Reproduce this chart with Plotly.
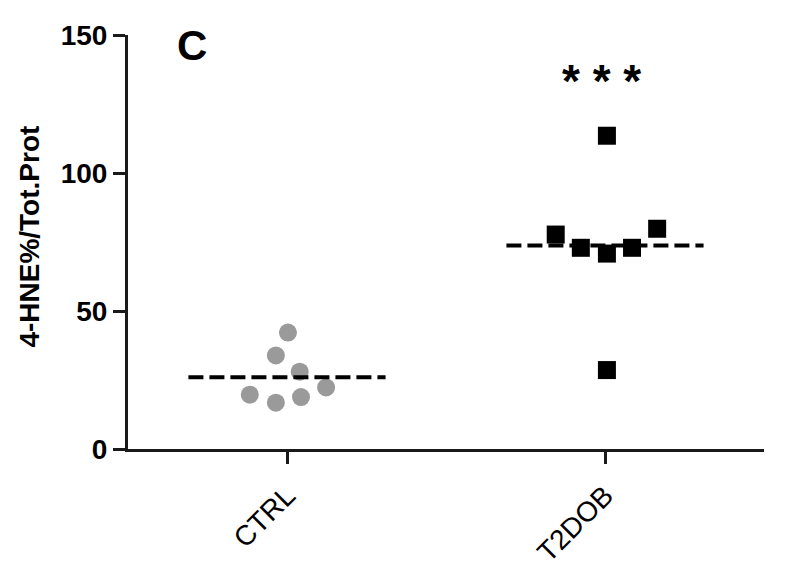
import numpy as np
import plotly.graph_objects as go

# group labels on the x axis
groups = ["CTRL", "T2DOB"]

# 4-HNE %/total protein, one value per subject
ctrl_values = [42.2, 33.9, 28.0, 22.3, 19.7, 18.8, 16.8]
t2dob_values = [113.5, 77.7, 72.9, 70.8, 72.9, 79.8, 28.6]

# horizontal scatter of each point around its group centre
ctrl_jitter = [0.003, -0.035, 0.04, 0.123, -0.117, 0.044, -0.035]
t2dob_jitter = [0.006, -0.155, -0.076, 0.006, 0.085, 0.164, 0.006]

y_ticks = [0, 50, 100, 150]
signif = "* * *"
panel = "C"

FONT = "Liberation Sans, Arial, sans-serif"
half_width = 0.31  # half length of the mean line

fig = go.Figure()

fig.add_trace(go.Scatter(
    x=[1 + j for j in ctrl_jitter], y=ctrl_values,
    mode="markers",
    marker=dict(symbol="circle", size=18, color="#9a9a9a"),
    showlegend=False))

fig.add_trace(go.Scatter(
    x=[2 + j for j in t2dob_jitter], y=t2dob_values,
    mode="markers",
    marker=dict(symbol="square", size=18, color="black"),
    showlegend=False))

# dashed mean lines, drawn above the points
for i, vals in enumerate([ctrl_values, t2dob_values], start=1):
    m = np.mean(vals)
    fig.add_trace(go.Scatter(
        x=[i - half_width, i + half_width], y=[m, m],
        mode="lines",
        line=dict(color="black", width=4, dash="15px,6px"),
        showlegend=False))

# the page body has an 8px margin, so the figure is 8px smaller than the window
fig.update_layout(
    width=779, height=580,
    margin=dict(l=120, r=23, t=18, b=139),
    paper_bgcolor="white", plot_bgcolor="white",
    font=dict(family=FONT, color="black"),
    xaxis=dict(
        range=[0.5, 2.5], tickvals=[1, 2], ticktext=groups,
        showgrid=False, zeroline=False,
        showline=True, linecolor="#1a1a1a", linewidth=3,
        ticks="outside", ticklen=12, tickwidth=3, tickcolor="#1a1a1a",
        tickangle=-45, tickfont=dict(size=28, family=FONT),
        ticklabelstandoff=4),
    yaxis=dict(
        range=[0, 150], tickvals=y_ticks,
        showgrid=False, zeroline=False,
        showline=True, linecolor="#1a1a1a", linewidth=3,
        ticks="outside", ticklen=12, tickwidth=3, tickcolor="#1a1a1a",
        tickfont=dict(size=28, family=FONT, weight="bold")),
    annotations=[
        dict(text="<b>4-HNE%/Tot.Prot</b>", textangle=-90,
             xref="paper", yref="paper", x=(30 - 128) / 636, y=0.513,
             xanchor="center", yanchor="middle", showarrow=False,
             font=dict(size=28, family=FONT)),
        dict(text="<b>" + panel + "</b>",
             xref="paper", yref="paper", x=(192 - 128) / 636, y=1 - (37 - 26) / 423,
             xanchor="center", yanchor="middle", showarrow=False,
             font=dict(size=42, family=FONT)),
        dict(text="<b>" + signif + "</b>",
             xref="x", yref="y", x=1.99, y=133.5,
             xanchor="center", yanchor="middle", showarrow=False,
             font=dict(size=46, family=FONT)),
    ],
)

fig.write_html("out.html")
